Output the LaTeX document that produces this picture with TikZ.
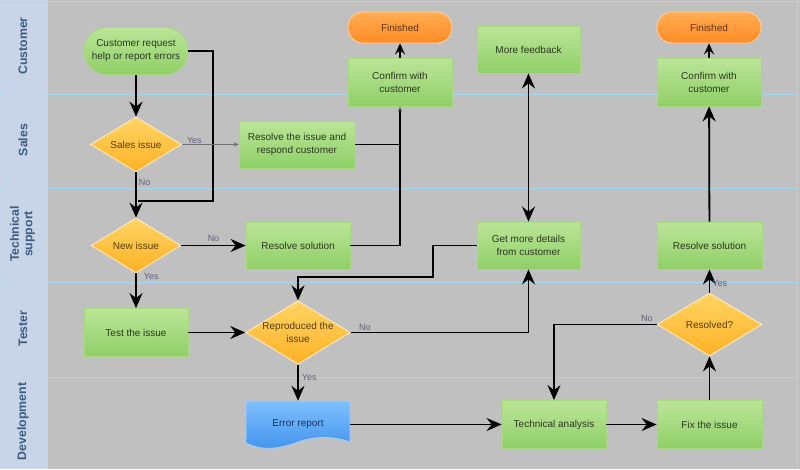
\documentclass[tikz,border=0pt]{standalone}
\usepackage{fontspec}
\setmainfont{Liberation Sans}
\usetikzlibrary{shapes.geometric,arrows.meta,calc}
\definecolor{labelcol}{RGB}{200,213,232}
\definecolor{bgcol}{RGB}{192,192,192}
\definecolor{laneline}{RGB}{165,215,240}
\definecolor{lanetext}{RGB}{62,92,128}
\definecolor{gtop}{RGB}{187,229,152}
\definecolor{gbot}{RGB}{143,207,102}
\definecolor{gborder}{RGB}{165,218,125}
\definecolor{gtext}{RGB}{45,55,35}
\definecolor{dtop}{RGB}{255,212,100}
\definecolor{dbot}{RGB}{255,178,38}
\definecolor{dborder}{RGB}{255,238,205}
\definecolor{dtext}{RGB}{85,60,15}
\definecolor{ftop}{RGB}{255,172,82}
\definecolor{fbot}{RGB}{255,140,38}
\definecolor{fborder}{RGB}{255,212,165}
\definecolor{ftext}{RGB}{95,50,20}
\definecolor{etop}{RGB}{128,192,255}
\definecolor{ebot}{RGB}{62,146,236}
\definecolor{eborder}{RGB}{165,208,255}
\definecolor{etext}{RGB}{30,45,95}
\definecolor{lbltext}{RGB}{95,95,122}
\definecolor{thingray}{RGB}{115,115,115}
\newcommand{\myNodeFont}{\fontsize{10}{13}\selectfont}
\tikzset{
  lanelabel/.style={rotate=90, align=center, text=lanetext, font=\fontsize{12.3}{13.5}\selectfont\bfseries},
  box/.style={rectangle, draw=gborder, line width=0.8pt, top color=gtop, bottom color=gbot,
    minimum width=104pt, minimum height=47pt, inner sep=1pt, align=center, text=gtext, font=\myNodeFont},
  startnode/.style={box, rounded corners=23pt},
  finnode/.style={rectangle, rounded corners=15pt, draw=fborder, line width=0.8pt, top color=ftop, bottom color=fbot,
    minimum width=104pt, minimum height=31pt, inner sep=1pt, text=ftext, font=\myNodeFont},
  decision/.style={diamond, aspect=1.65, draw=dborder, line width=0.8pt, top color=dtop, bottom color=dbot,
    inner sep=0pt, align=center, text=dtext, font=\myNodeFont},
  docnode/.style={rectangle, minimum width=104pt, minimum height=47pt, inner sep=1pt, text=etext, font=\myNodeFont},
  arr/.style={draw=black, line width=1.8pt, -{Stealth[length=15pt,width=13pt,inset=5pt]}},
  arrsmall/.style={draw=black, line width=1.8pt, -{Stealth[length=11pt,width=10pt,inset=4pt]}},
  plainline/.style={draw=black, line width=1.8pt},
  thinarr/.style={draw=thingray, line width=0.6pt, -{Stealth[length=5pt,width=4.5pt]}},
  grayend/.style={draw=black, line width=1.8pt, -{Stealth[length=5pt,width=5pt,color=thingray]}},
  lbl/.style={font=\fontsize{9}{10}\selectfont, text=lbltext, inner sep=1pt},
}
\begin{document}
\begin{tikzpicture}[x=1pt,y=-1pt]
\useasboundingbox (0,0) rectangle (800,469);
% background
\fill[labelcol] (0,0) rectangle (47.5,469);
\fill[bgcol] (47.5,0) rectangle (800,469);
\draw[laneline, line width=1pt] (0,1) -- (800,1);
\foreach \yy in {94,188.5,282,377}
  \draw[laneline, line width=1pt] (47.5,\yy) -- (797.5,\yy);
\foreach \yy in {94,188.5,282,377}{
  \draw[laneline, line width=1pt] (0,\yy) -- (2.5,\yy);
  \draw[laneline, line width=1pt] (45,\yy) -- (47.5,\yy);}
\draw[laneline, line width=1pt] (797.5,1) -- (797.5,469);
% lane labels
\node[lanelabel] (lcust) at (23,46) {Customer};
\node[lanelabel] (lsales) at (23,140) {Sales};
\node[lanelabel] (ltech) at (22.5,234) {Technical\\support};
\node[lanelabel] (ltest) at (23,328.5) {Tester};
\node[lanelabel] (ldev) at (23,421.5) {Development};
% nodes
\node[startnode] (req) at (136,51) {Customer request\\help or report errors};
\node[decision, minimum width=91pt, minimum height=55pt] (sales) at (136,144.5) {Sales issue};
\node[box, minimum width=116pt] (resissue) at (297,144.5) {Resolve the issue and\\respond customer};
\node[finnode] (fin1) at (400,27.5) {Finished};
\node[box, minimum height=48pt] (conf1) at (400,82) {Confirm with\\customer};
\node[box, minimum width=103pt] (more) at (528.5,49.5) {More feedback};
\node[finnode] (fin2) at (709,27.5) {Finished};
\node[box, minimum height=48pt] (conf2) at (709,82) {Confirm with\\customer};
\node[decision, minimum width=90pt, minimum height=55pt] (new) at (136,245.5) {New issue};
\node[box] (ressol1) at (298,245.5) {Resolve solution};
\node[box, minimum width=103pt] (details) at (528.5,245.5) {Get more details\\from customer};
\node[box, minimum width=105pt] (ressol2) at (709.5,245.5) {Resolve solution};
\node[box, minimum height=48pt] (test) at (136,332.5) {Test the issue};
\node[decision, minimum width=104pt, minimum height=63pt] (repro) at (298,332.5) {Reproduced the\\issue};
\node[decision, minimum width=105pt, minimum height=63pt] (resolved) at (709.5,324.5) {Resolved?};
\path[draw=eborder, line width=0.8pt, top color=etop, bottom color=ebot]
  (246,401) -- (350,401) -- (350,442)
  .. controls (333,436) and (315,436) .. (298,442)
  .. controls (282,448) and (264,452) .. (246,443) -- cycle;
\node[docnode] (err) at (298,424.5) {Error report};
\node[box, minimum height=48pt] (tech) at (554,424.5) {Technical analysis};
\node[box, minimum width=105pt, minimum height=48pt] (fix) at (709.5,424.5) {Fix the issue};
% coordinates
\coordinate (j1) at (213,201);
\coordinate (j1e) at (138,201);
\coordinate (jr) at (400,144.5);
\coordinate (ja) at (433,277);
% connectors
\draw[arr] (req) -- (sales);
\draw[plainline] (req.east) -| (j1) -- (j1e);
\draw[arr] (sales) -- node[lbl, anchor=west, pos=0.22, xshift=1pt] {No} (new);
\draw[thinarr] (sales) -- node[lbl, above, pos=0.22] {Yes} (resissue);
\draw[plainline] (resissue.east) -- (jr);
\draw[grayend] (ressol1.east) -| (conf1.south);
\draw[arrsmall] (conf1) -- (fin1);
\draw[arr] (new) -- node[lbl, above, pos=0.5, yshift=2pt] {No} (ressol1);
\draw[arr] (new) -- node[lbl, anchor=west, pos=0.1, xshift=6pt] {Yes} (test);
\draw[arr] (test) -- (repro);
\draw[arr] (repro.east) -| node[lbl, above, pos=0.04] {No} (details.south);
\draw[arr] (details.west) -| (ja) -| (repro.north);
\draw[line width=1.8pt, {Stealth[length=15pt,width=13pt,inset=5pt]}-{Stealth[length=15pt,width=13pt,inset=5pt]}] (more) -- (details);
\draw[arr] (repro) -- node[lbl, anchor=west, pos=0.35, xshift=2pt] {Yes} (err);
\draw[arr] (err) -- (tech);
\draw[arr] (tech) -- (fix);
\draw[arr] (fix) -- (resolved);
\draw[arr] (resolved) -- node[lbl, anchor=west, pos=0.4, xshift=1pt] {Yes} (ressol2);
\draw[arr] (resolved.west) -| node[lbl, pos=0, anchor=south east, xshift=-2pt, yshift=1pt] {No} (tech.north);
\draw[arr] (ressol2) -- (conf2);
\draw[arrsmall] (conf2) -- (fin2);
\end{tikzpicture}
\end{document}
